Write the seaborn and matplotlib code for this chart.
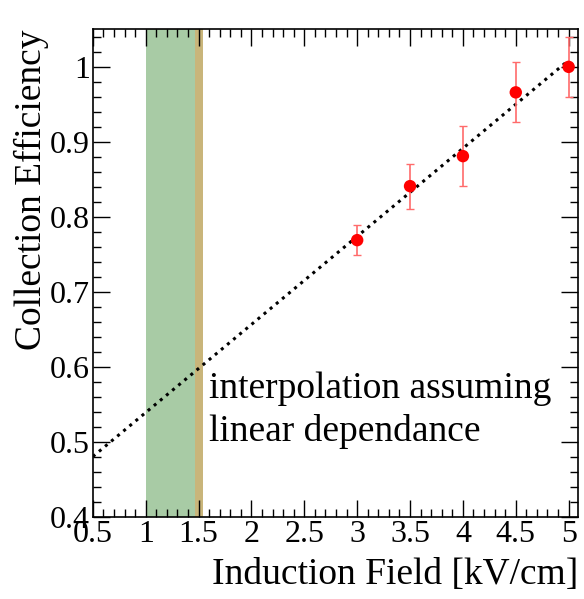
import numpy as np
import pandas as pd
import matplotlib
matplotlib.use("Agg")
import matplotlib.pyplot as plt
import seaborn as sns
from matplotlib.ticker import MultipleLocator

# Measured collection efficiency vs induction field
field = [3.0, 3.5, 4.0, 4.5, 5.0]
efficiency = [0.769, 0.841, 0.881, 0.966, 1.000]
eff_err = [0.020, 0.030, 0.040, 0.040, 0.040]

# Operating-range bands (kV/cm)
green_band = [1.0, 1.47]
tan_band = [1.47, 1.54]

x_ticks = [0.5, 1, 1.5, 2, 2.5, 3, 3.5, 4, 4.5, 5]
x_tick_labels = ["0.5", "1", "1.5", "2", "2.5", "3", "3.5", "4", "4.5", "5"]
y_ticks = [0.4, 0.5, 0.6, 0.7, 0.8, 0.9, 1.0]
y_tick_labels = ["0.4", "0.5", "0.6", "0.7", "0.8", "0.9", "1"]

sns.set_theme(style="ticks")
plt.rcParams["font.family"] = ["Liberation Serif", "DejaVu Serif"]
plt.rcParams["text.color"] = "black"
plt.rcParams["axes.labelcolor"] = "black"

df = pd.DataFrame({"field": field, "eff": efficiency, "err": eff_err})

fig = plt.figure(figsize=(5.84, 5.99), dpi=100)
ax = fig.add_axes([0.159, 0.137, 0.831, 0.814])

ax.axvspan(*green_band, color="#a8cba5", lw=0, zorder=0)
ax.axvspan(*tan_band, color="#c9b57a", lw=0, zorder=0)

# Linear interpolation through the measurements
slope, intercept = np.polyfit(df["field"], df["eff"], 1)
fit = pd.DataFrame({"field": [0.5, 5.0]})
fit["eff"] = intercept + slope * fit["field"]
sns.lineplot(data=fit, x="field", y="eff", ax=ax, color="black",
             linestyle=(0, (1, 1.6)), lw=2.2, zorder=3)

ax.errorbar(df["field"], df["eff"], yerr=df["err"], fmt="none",
            ecolor="#ff6b6b", elinewidth=1.2, capsize=3, capthick=1.0, zorder=4)
sns.scatterplot(data=df, x="field", y="eff", ax=ax, color="red",
                s=80, edgecolor="none", zorder=5)

ax.text(1.6, 0.594, "interpolation assuming\nlinear dependance",
        fontsize=27, linespacing=1.3, va="top", ha="left", color="black")

ax.set_xlim(0.5, 5.09)
ax.set_ylim(0.4, 1.05)
ax.set_xticks(x_ticks)
ax.set_xticklabels(x_tick_labels)
ax.set_yticks(y_ticks)
ax.set_yticklabels(y_tick_labels)
ax.xaxis.set_minor_locator(MultipleLocator(0.1))
ax.yaxis.set_minor_locator(MultipleLocator(0.02))
ax.tick_params(which="both", direction="in", top=True, right=True,
               labelsize=23, colors="black", width=1.0)
ax.tick_params(axis="x", pad=2)
ax.tick_params(axis="y", pad=2)
ax.tick_params(which="major", length=12)
ax.tick_params(which="minor", length=6)
for s in ax.spines.values():
    s.set_visible(True)
    s.set_linewidth(1.2)
    s.set_color("black")

ax.set_xlabel("Induction Field [kV/cm]", fontsize=27, loc="right", labelpad=6)
ax.set_ylabel("Collection Efficiency", fontsize=27, loc="top", labelpad=1)

fig.savefig("out.png", dpi=100)
